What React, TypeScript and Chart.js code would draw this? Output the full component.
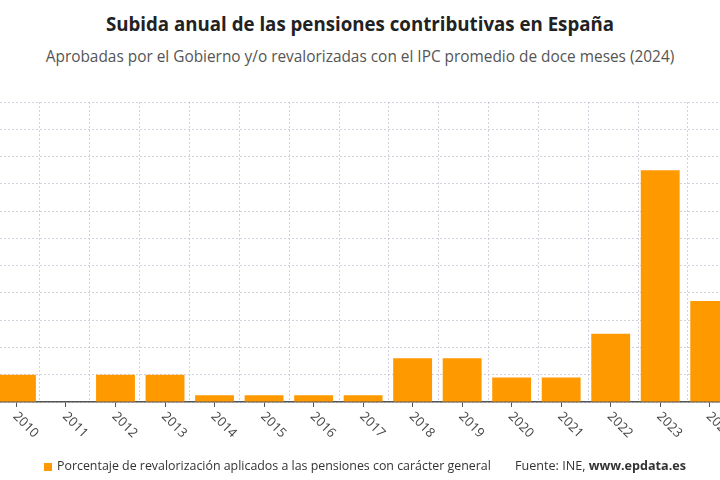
import React, { useEffect, useRef } from "react";
import { Chart, registerables } from "chart.js";

Chart.register(...registerables);

const years = ["2010", "2011", "2012", "2013", "2014", "2015", "2016", "2017", "2018", "2019", "2020", "2021", "2022", "2023", "2024"];
const revalorizacion = [1, 0, 1, 1, 0.25, 0.25, 0.25, 0.25, 1.6, 1.6, 0.9, 0.9, 2.5, 8.5, 3.7];
const yMin = 0;
const yMax = 11;
const yStep = 1;

const titleText = "Subida anual de las pensiones contributivas en España";
const subtitleText = "Aprobadas por el Gobierno y/o revalorizadas con el IPC promedio de doce meses (2024)";
const legendLabel = "Porcentaje de revalorización aplicados a las pensiones con carácter general";
const sourcePrefix = "Fuente: INE, ";
const sourceSite = "www.epdata.es";

const ORANGE = "#ff9900";
const FONT = "'Open Sans', 'Noto Sans', sans-serif";

const rotatedLabels = {
  id: "rotatedLabels",
  afterDraw(chart: any) {
    const scale = chart.scales.x;
    const ctx = chart.ctx;
    const labels: string[] = chart.data.labels;
    ctx.save();
    ctx.font = `13px ${FONT}`;
    ctx.fillStyle = "#444";
    ctx.textAlign = "left";
    ctx.textBaseline = "middle";
    labels.forEach((lab, i) => {
      const x = scale.getPixelForTick(i) - 1.3;
      const y = chart.chartArea.bottom + 12.5;
      ctx.save();
      ctx.translate(x, y);
      ctx.rotate(Math.PI / 4);
      ctx.fillText(lab, 0, 0);
      ctx.restore();
    });
    ctx.restore();
  },
};

export default function App() {
  const ref = useRef<HTMLCanvasElement | null>(null);

  useEffect(() => {
    if (!ref.current) return;
    const gridColor = "rgba(180,180,200,0.6)";
    const chart = new Chart(ref.current, {
      type: "bar",
      data: {
        labels: years,
        datasets: [
          {
            label: legendLabel,
            data: revalorizacion,
            backgroundColor: ORANGE,
            categoryPercentage: 1,
            barPercentage: 0.785,
            xAxisID: "x",
            yAxisID: "y",
          },
        ],
      },
      options: {
        responsive: false,
        animation: false,
        devicePixelRatio: 1,
        layout: { padding: { left: 11.7, right: 5.5, top: 102, bottom: 0 } },
        plugins: {
          legend: { display: false },
          tooltip: { enabled: false },
          title: { display: false },
        },
        scales: {
          x: {
            type: "category",
            offset: true,
            position: "bottom",
            grid: {
              display: true,
              drawOnChartArea: false,
              drawTicks: true,
              tickLength: 5,
              tickColor: "#555",
              tickWidth: 1,
              offset: false,
            },
            border: { display: true, color: "#555", width: 1.5 },
            ticks: { display: false },
            afterFit: (s: any) => {
              s.height = 78;
            },
          },
          x2: {
            type: "linear",
            position: "top",
            min: -0.894,
            max: 12.86,
            grid: { display: true, drawTicks: false, color: gridColor, lineWidth: 1 },
            border: { display: false, dash: [2, 2] },
            ticks: { display: false, stepSize: 1, includeBounds: false },
            afterFit: (s: any) => {
              s.height = 0;
            },
          },
          y: {
            min: yMin,
            max: yMax,
            grid: { display: true, drawTicks: false, color: gridColor, lineWidth: 1 },
            border: { display: false, dash: [2, 2] },
            ticks: { display: false, stepSize: yStep },
            afterFit: (s: any) => {
              s.width = 0;
            },
          },
        },
      },
      plugins: [rotatedLabels],
    } as any);
    return () => chart.destroy();
  }, []);

  return (
    <div
      style={{
        position: "fixed",
        left: 0,
        top: 0,
        width: 720,
        height: 480,
        overflow: "hidden",
        background: "#fff",
        fontFamily: FONT,
      }}
    >
      <div
        style={{
          position: "absolute",
          top: 12.3,
          left: 0,
          width: 720,
          textAlign: "center",
          fontSize: 18.7,
          fontWeight: 700,
          lineHeight: "24px",
          color: "#222",
          whiteSpace: "nowrap",
        }}
      >
        {titleText}
      </div>
      <div
        style={{
          position: "absolute",
          top: 47,
          left: 0,
          width: 720,
          textAlign: "center",
          fontSize: 15.4,
          lineHeight: "20px",
          color: "#555",
          whiteSpace: "nowrap",
        }}
      >
        {subtitleText}
      </div>
      <canvas
        ref={ref}
        width={760}
        height={480}
        style={{ position: "absolute", left: -20, top: 0, width: 760, height: 480 }}
      />
      <div
        style={{
          position: "absolute",
          left: 44,
          top: 463,
          width: 8,
          height: 8,
          background: ORANGE,
        }}
      />
      <div
        style={{
          position: "absolute",
          left: 57,
          top: 458,
          fontSize: 12.4,
          lineHeight: "16px",
          color: "#333",
          whiteSpace: "nowrap",
        }}
      >
        {legendLabel}
      </div>
      <div
        style={{
          position: "absolute",
          left: 515,
          top: 458,
          fontSize: 12.6,
          lineHeight: "16px",
          color: "#333",
          whiteSpace: "nowrap",
        }}
      >
        {sourcePrefix}
        <span style={{ fontWeight: 700 }}>{sourceSite}</span>
      </div>
    </div>
  );
}
